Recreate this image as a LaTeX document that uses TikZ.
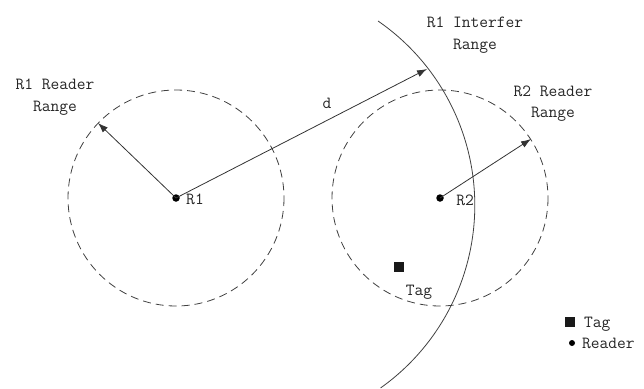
\documentclass[tikz,border=0pt]{standalone}
\usetikzlibrary{arrows.meta}
\tikzset{
  lbl/.style={font=\ttfamily\fontsize{17}{22}\selectfont, inner sep=0pt, anchor=base, text=black!85},
  dot/.style={circle, fill=black, inner sep=0pt, minimum size=7.5pt},
  tagsq/.style={rectangle, fill=black!90, inner sep=0pt, minimum size=10pt},
  rangecircle/.style={draw=black!75, line width=0.8pt, dash pattern=on 8pt off 5pt},
  arr/.style={draw=black!80, line width=0.8pt, -{Latex[length=10pt,width=7pt]}},
  interf/.style={draw=black!75, line width=0.8pt}
}
\begin{document}
\begin{tikzpicture}[x=1pt,y=-1pt]
\useasboundingbox (0,0) rectangle (644,388);
% reader positions
\node[dot] (r1) at (176,198) {};
\node[dot] (r2) at (440,198) {};
% reader ranges
\draw[rangecircle] (r1.center) circle (108);
\draw[rangecircle] (r2.center) circle (108);
% R1 interference range
\coordinate (arcstart) at (378,21);
\draw[interf] (arcstart) arc[start angle=-55.4, end angle=54.6, radius=224];
% arrow tips
\coordinate (t1) at (98,123);
\coordinate (t2) at (427,69);
\coordinate (t3) at (531,139);
\draw[arr] (r1.center) -- (t1);
\draw[arr] (r1.center) -- (t2);
\draw[arr] (r2.center) -- (t3);
% labels
\node[lbl] (l1a) at (55,89) {R1 Reader};
\node[lbl] (l1b) at (55,111) {Range};
\node[lbl] (l2a) at (475,27) {R1 Interfer};
\node[lbl] (l2b) at (475,49) {Range};
\node[lbl] (l3a) at (553,96) {R2 Reader};
\node[lbl] (l3b) at (553,117) {Range};
\node[lbl] (ld) at (327,108) {d};
\node[lbl] (lr1) at (195,204) {R1};
\node[lbl] (lr2) at (465,205) {R2};
% tag
\node[tagsq] (tag) at (399,267) {};
\node[lbl] (ltag) at (419,295) {Tag};
% legend
\node[tagsq] (legtag) at (570,322) {};
\node[lbl, anchor=base west] (legtagl) at (584,327) {Tag};
\node[dot, minimum size=6pt] (legdot) at (572,343) {};
\node[lbl, anchor=base west] (legdotl) at (582,348) {Reader};
\end{tikzpicture}
\end{document}
